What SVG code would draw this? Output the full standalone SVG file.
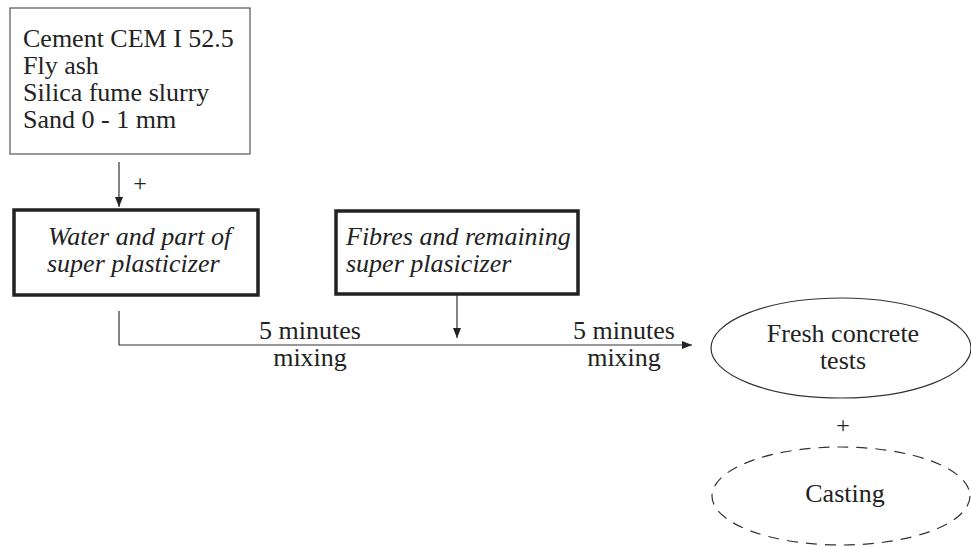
<svg xmlns="http://www.w3.org/2000/svg" width="971" height="547" viewBox="0 0 971 547">
<style>
text{font-family:"Liberation Serif","Times New Roman",serif;font-size:26px;fill:#222}
.it{font-style:italic}
.mid{text-anchor:middle}
.plus{font-size:24px}
.thin{fill:#fff;stroke:#555;stroke-width:1.2}
.thick{fill:#fff;stroke:#222;stroke-width:3.5}
.ln{fill:none;stroke:#333;stroke-width:1.2}
.dash{fill:none;stroke:#333;stroke-width:1.2;stroke-dasharray:11 8}
</style>
<defs>
<marker id="ah" viewBox="0 0 10 10" refX="10" refY="5" markerWidth="10" markerHeight="10" markerUnits="userSpaceOnUse" orient="auto">
<path d="M0,1 L10,5 L0,9 Z" fill="#222"/>
</marker>
</defs>
<g id="connectors">
<line class="ln" x1="119" y1="162" x2="119" y2="207" marker-end="url(#ah)"/>
<text x="140" y="191" class="mid plus">+</text>
<polyline class="ln" points="119,311 119,345 692,345" marker-end="url(#ah)"/>
<line class="ln" x1="457" y1="295" x2="457" y2="338" marker-end="url(#ah)"/>
<text x="310" y="339" class="mid">5 minutes</text>
<text x="310" y="366" class="mid">mixing</text>
<text x="624" y="339" class="mid">5 minutes</text>
<text x="624" y="366" class="mid">mixing</text>
<text x="843" y="433" class="mid plus">+</text>
</g>
<g id="materials">
<rect class="thin" x="10" y="8" width="240" height="146"/>
<text x="23" y="47">Cement CEM I 52.5</text>
<text x="23" y="74">Fly ash</text>
<text x="23" y="101">Silica fume slurry</text>
<text x="23" y="128">Sand 0 - 1 mm</text>
</g>
<g id="water">
<rect class="thick" x="14" y="210" width="244" height="85"/>
<text x="48" y="245" class="it">Water and part of</text>
<text x="47" y="272" class="it">super plasticizer</text>
</g>
<g id="fibres">
<rect class="thick" x="336" y="211" width="242" height="83"/>
<text x="346" y="245" class="it">Fibres and remaining</text>
<text x="346" y="272" class="it">super plasicizer</text>
</g>
<g id="fresh">
<ellipse class="ln" cx="841" cy="348" rx="130" ry="50"/>
<text x="843" y="342" class="mid">Fresh concrete</text>
<text x="843" y="369" class="mid">tests</text>
</g>
<g id="casting">
<ellipse class="dash" cx="841" cy="496" rx="129" ry="49"/>
<text x="845" y="502" class="mid">Casting</text>
</g>
</svg>
